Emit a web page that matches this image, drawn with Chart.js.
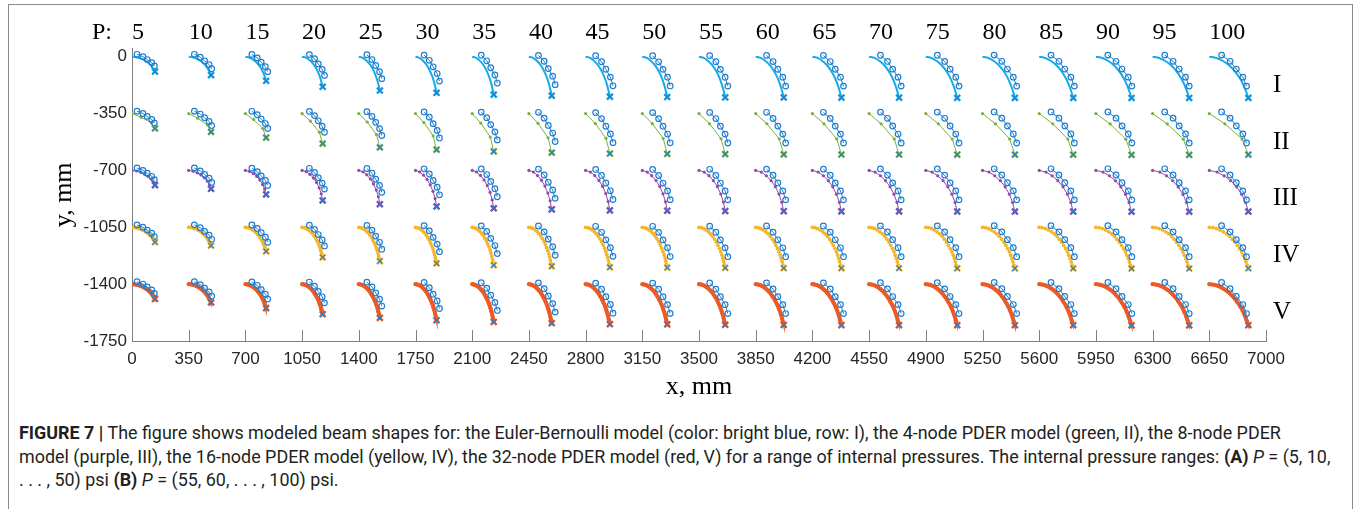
<!DOCTYPE html>
<html><head><meta charset="utf-8">
<script src="https://cdn.jsdelivr.net/npm/chart.js@4.4.1/dist/chart.umd.min.js"></script>
<style>
html,body{margin:0;padding:0;background:#fff;}
body{width:1356px;height:509px;position:relative;overflow:hidden;}
#frame{position:absolute;left:8px;top:4px;width:1345px;height:600px;border:1px solid #8a8a8a;box-sizing:border-box;}
#wrap{position:absolute;left:0;top:0;width:1356px;height:400px;}
#cap{position:absolute;left:19px;top:421px;font-family:"Liberation Sans Narrow","Roboto","Liberation Sans",sans-serif;font-size:18px;line-height:23.5px;color:#231f20;white-space:nowrap;}
#cap .ln{display:block;height:23.5px;}
#cap .ln span.in{display:inline-block;transform-origin:0 50%;}
</style></head>
<body>
<div id="frame"></div>
<div id="wrap"><canvas id="c" width="1356" height="400"></canvas></div>
<div id="cap">
<div class="ln"><span class="in" data-w="1271"><b>FIGURE 7 |</b> The figure shows modeled beam shapes for: the Euler-Bernoulli model (color: bright blue, row: I), the 4-node PDER model (green, II), the 8-node PDER</span></div>
<div class="ln"><span class="in" data-w="1302">model (purple, III), the 16-node PDER model (yellow, IV), the 32-node PDER model (red, V) for a range of internal pressures. The internal pressure ranges: <b>(A)</b> <i>P</i> = (5, 10,</span></div>
<div class="ln"><span class="in" data-w="0">. . . , 50) psi <b>(B)</b> <i>P</i> = (55, 60, . . . , 100) psi.</span></div>
</div>
<script>
// ---- data ----
const pressures = [5,10,15,20,25,30,35,40,45,50,55,60,65,70,75,80,85,90,95,100];
const rowNames = ['I','II','III','IV','V'];
const xTicks = [0,350,700,1050,1400,1750,2100,2450,2800,3150,3500,3850,4200,4550,4900,5250,5600,5950,6300,6650,7000];
const yTicks = [0,-350,-700,-1050,-1400,-1750];
// model tip offsets (mm) relative to each panel origin
const tipX = [142,138,128,127,130,130,133,141,150,154,162,173,179,185,194,200,210,220,226,241];
const tipY = [-91,-113,-148,-185,-208,-222,-233,-240,-246,-248,-250,-251,-252,-252,-253,-253,-253,-254,-254,-253];
// experimental points: first and last measured point offsets (mm)
const expX0 = [31,35,40,45,50,53,56,59,62,64,66,67,68,70,71,72,73,74,75,76];
const expY0 = [15,15,14,13,12,10,9,8,6,6,7,8,8,9,9,10,10,10,10,10];
const expX1 = [138,142,138,138,142,148,155,162,169,172,178,185,192,198,205,211,217,222,226,230];
const expY1 = [-57,-74,-92,-115,-135,-150,-162,-172,-179,-180,-181,-181,-181,-181,-181,-181,-181,-181,-181,-181];
const expFx = [0,0.34,0.59,0.85,1];
const expFy = [0,0.20,0.45,0.71,1];
// normalized model shapes (fraction of tip offset)
const ebFx  = [0,0.18,0.36,0.52,0.66,0.78,0.87,0.94,1];
const ebFy  = [0,0.03,0.11,0.22,0.36,0.52,0.68,0.84,1];
const n4Fx  = [0,0.40,0.84,1];
const n4Fy  = [0,0.25,0.62,1];
const n8Fx  = [0,0.20,0.38,0.55,0.70,0.83,0.93,1];
const n8Fy  = [0,0.04,0.13,0.25,0.40,0.58,0.78,1];
const n16Fx = [0,0.09,0.18,0.27,0.36,0.44,0.52,0.59,0.66,0.72,0.78,0.83,0.87,0.91,0.94,0.97,1];
const n16Fy = [0,0.01,0.03,0.065,0.11,0.16,0.22,0.29,0.36,0.44,0.52,0.60,0.68,0.76,0.84,0.92,1];
const n32Fx = [0,0.045,0.09,0.135,0.18,0.225,0.27,0.315,0.36,0.40,0.44,0.48,0.52,0.555,0.59,0.625,0.66,0.69,0.72,0.75,0.78,0.805,0.83,0.85,0.87,0.89,0.91,0.925,0.94,0.955,0.97,0.985,1];
const n32Fy = [0,0.005,0.01,0.02,0.03,0.047,0.065,0.087,0.11,0.135,0.16,0.19,0.22,0.255,0.29,0.325,0.36,0.40,0.44,0.48,0.52,0.56,0.60,0.64,0.68,0.72,0.76,0.80,0.84,0.88,0.92,0.96,1];
const panelStepX = 350, panelStepY = 350;

// ---- styles ----
const modelColors = ['#14ABE6','#79B140','#9746AA','#F6B52A','#EE5A24'];
const expColor = '#1F7ED0';
const shapes = [[ebFx,ebFy],[n4Fx,n4Fy],[n8Fx,n8Fy],[n16Fx,n16Fy],[n32Fx,n32Fy]];
const lineW = [2,1,1,1.2,2.2];
const dotR = [0,1.6,1.6,1.9,2.1];

const datasets = [];
for (let r = 0; r < 5; r++) {
  for (let k = 0; k < pressures.length; k++) {
    const x0 = k*panelStepX, y0 = -r*panelStepY;
    const [fx, fy] = shapes[r];
    datasets.push({
      data: fx.map((f,i)=>({x: x0 + f*tipX[k], y: y0 + fy[i]*tipY[k]})),
      showLine: true, borderColor: modelColors[r], backgroundColor: modelColors[r],
      borderWidth: lineW[r], pointRadius: dotR[r], pointBorderWidth: 0,
      tension: r===0 ? 0.35 : 0, order: 4
    });
    datasets.push({
      data: expFx.map((f,i)=>({x: x0 + expX0[k] + f*(expX1[k]-expX0[k]), y: y0 + expY0[k] + expFy[i]*(expY1[k]-expY0[k])})),
      showLine: true, borderColor: expColor, backgroundColor: 'rgba(0,0,0,0)',
      borderWidth: 1, pointRadius: 2.8, pointBorderWidth: 1.2, pointBorderColor: expColor, order: 3
    });
    datasets.push({
      data: [{x: x0 + tipX[k], y: y0 + tipY[k]}],
      showLine: false, pointStyle: 'crossRot', pointRadius: 4.2, pointBorderWidth: 2.4,
      borderColor: modelColors[r], pointBorderColor: modelColors[r], order: 2
    });
    datasets.push({
      data: [{x: x0 + tipX[k], y: y0 + tipY[k]}],
      showLine: false, pointStyle: 'crossRot', pointRadius: 3.6, pointBorderWidth: 1.1,
      borderColor: expColor, pointBorderColor: expColor, order: 1
    });
  }
}

const pLabelY = 109;      // baseline of top pressure labels (data units)
const pPrefixX = -247;    // "P:" position (data units)
const rowLabelX = 7043;
const rowLabelY0 = -215;

const overlay = {
  id: 'overlay',
  afterDraw(chart) {
    const {ctx, scales: {x, y}} = chart;
    ctx.save();
    ctx.strokeStyle = '#808080'; ctx.lineWidth = 1;
    const yb = Math.round(y.getPixelForValue(-1750));
    xTicks.forEach(v => {
      if (v === 0) return;
      const px = Math.round(x.getPixelForValue(v)) + 0.5;
      ctx.beginPath(); ctx.moveTo(px, yb); ctx.lineTo(px, yb - 11); ctx.stroke();
    });
    ctx.fillStyle = '#000';
    ctx.textAlign = 'left'; ctx.textBaseline = 'alphabetic';
    ctx.font = '24px "Liberation Serif", "DejaVu Serif", serif';
    const py = y.getPixelForValue(pLabelY);
    ctx.fillText('P:', x.getPixelForValue(pPrefixX), py);
    pressures.forEach((p, k) => ctx.fillText(String(p), x.getPixelForValue(k*panelStepX), py));
    ctx.font = '25px "Liberation Serif", "DejaVu Serif", serif';
    rowNames.forEach((n, r) => ctx.fillText(n, x.getPixelForValue(rowLabelX), y.getPixelForValue(rowLabelY0 - r*panelStepY)));
    ctx.restore();
  }
};

const tickFont = {family: '"Liberation Sans", Arial, sans-serif', size: 17};
const titleFont = {family: '"Liberation Serif", "DejaVu Serif", serif', size: 26, lineHeight: 1};
const plainNum = v => String(v);

new Chart(document.getElementById('c'), {
  type: 'scatter',
  data: {datasets},
  options: {
    responsive: false, animation: false, devicePixelRatio: 1, events: [],
    layout: {padding: {left: 0, right: 90, top: 48.6, bottom: 0}},
    plugins: {legend: {display: false}, tooltip: {enabled: false}},
    scales: {
      x: {
        type: 'linear', min: 0, max: 7000,
        afterBuildTicks: s => { s.ticks = xTicks.map(v => ({value: v})); },
        afterFit: s => { s.height = 59; },
        ticks: {font: tickFont, color: '#262626', padding: 8, maxRotation: 0, autoSkip: false, callback: plainNum},
        grid: {display: false, drawTicks: false},
        border: {display: true, color: '#808080', width: 1},
        title: {display: true, text: 'x, mm', font: titleFont, color: '#000', padding: {top: 0, bottom: 0}}
      },
      y: {
        type: 'linear', min: -1750, max: 50,
        afterBuildTicks: s => { s.ticks = yTicks.map(v => ({value: v})); },
        afterFit: s => { s.width = 132; },
        ticks: {font: tickFont, color: '#262626', padding: 5, callback: plainNum},
        grid: {display: false, drawTicks: false},
        border: {display: true, color: '#808080', width: 1},
        title: {display: true, text: 'y, mm', font: titleFont, color: '#000', padding: {top: 51, bottom: 0}}
      }
    }
  },
  plugins: [overlay]
});

// fit caption lines to the measured widths using one common horizontal scale
const capLines = Array.from(document.querySelectorAll('#cap span.in'));
let sc = 0, n = 0;
capLines.forEach(el => {
  const target = +el.dataset.w, w = el.getBoundingClientRect().width;
  if (target > 0 && w > 0) { sc += target / w; n++; }
});
sc = n ? sc / n : 1;
capLines.forEach(el => { el.style.transform = 'scaleX(' + sc + ')'; });
</script>
</body></html>
